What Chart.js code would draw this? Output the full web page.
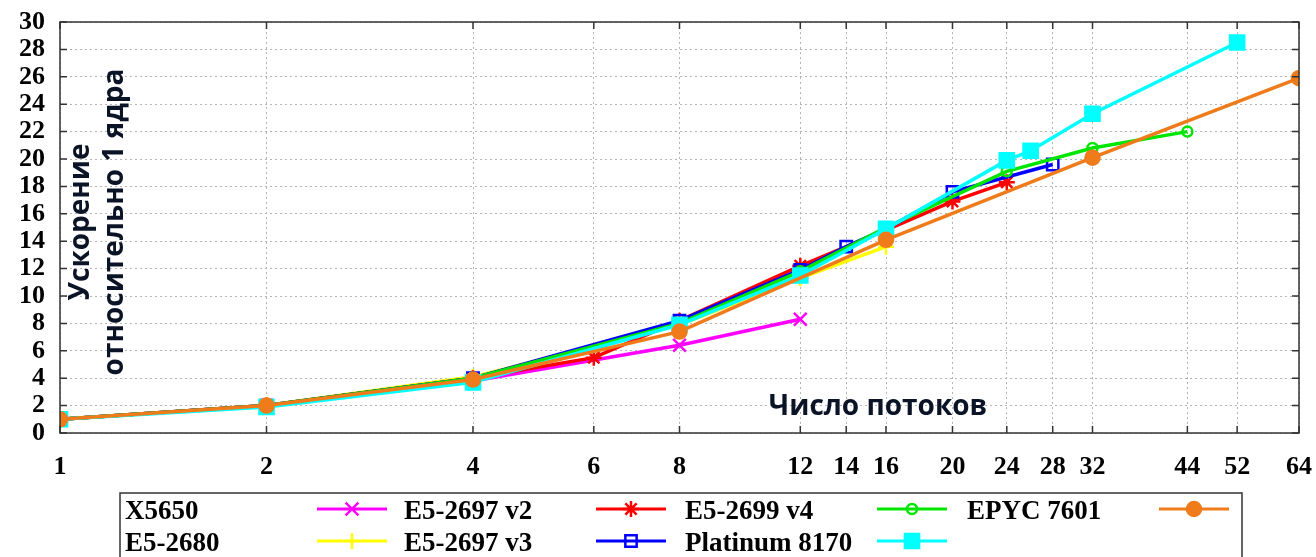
<!DOCTYPE html>
<html>
<head>
<meta charset="utf-8">
<script src="https://cdn.jsdelivr.net/npm/chart.js@4/dist/chart.umd.min.js"></script>
<style>
    body { margin: 0; background: #fff; }
    #wrap { width: 1316px; height: 557px; position: relative; }
</style>
</head>
<body>
<div id="wrap"><canvas id="speedupChart"></canvas></div>
<script>
// threads on the x axis, speedup relative to 1 core on the y axis
const xTicks = [1, 2, 4, 6, 8, 12, 14, 16, 20, 24, 28, 32, 44, 52, 64];
const yTicks = [0, 2, 4, 6, 8, 10, 12, 14, 16, 18, 20, 22, 24, 26, 28, 30];

const x5650Threads = [1, 2, 4, 8, 12];
const x5650Speedup = [1.0, 2.0, 3.8, 6.4, 8.3];

const e52680Threads = [1, 2, 4, 8, 12, 16];
const e52680Speedup = [1.0, 2.0, 4.1, 7.9, 11.3, 13.6];

const v2Threads = [1, 2, 4, 6, 8, 12, 16, 20, 24];
const v2Speedup = [1.0, 2.0, 4.0, 5.5, 8.2, 12.2, 14.8, 16.9, 18.3];

const v3Threads = [1, 2, 4, 8, 12, 14, 16, 20, 28];
const v3Speedup = [1.0, 2.0, 4.0, 8.2, 11.9, 13.6, 14.9, 17.6, 19.6];

const v4Threads = [1, 2, 4, 8, 12, 16, 24, 32, 44];
const v4Speedup = [1.0, 2.0, 4.0, 8.0, 11.8, 15.0, 19.1, 20.8, 22.0];

const platThreads = [1, 2, 4, 8, 12, 16, 24, 26, 32, 52];
const platSpeedup = [1.0, 1.9, 3.7, 7.9, 11.5, 14.9, 19.9, 20.6, 23.3, 28.5];

const epycThreads = [1, 2, 4, 8, 16, 32, 64];
const epycSpeedup = [1.0, 2.0, 3.9, 7.4, 14.1, 20.1, 25.9];

const toPoints = (xs, ys) => xs.map((x, i) => ({ x: x, y: ys[i] }));

const series = [
    { label: 'X5650', data: toPoints(x5650Threads, x5650Speedup), color: '#ff00ff', style: 'crossRot', r: 9, fill: false },
    { label: 'E5-2680', data: toPoints(e52680Threads, e52680Speedup), color: '#ffff00', style: 'cross', r: 8, fill: false },
    { label: 'E5-2697 v2', data: toPoints(v2Threads, v2Speedup), color: '#ff0000', style: 'star', r: 8, fill: false },
    { label: 'E5-2697 v3', data: toPoints(v3Threads, v3Speedup), color: '#0000ff', style: 'rect', r: 8, fill: false },
    { label: 'E5-2699 v4', data: toPoints(v4Threads, v4Speedup), color: '#00e600', style: 'circle', r: 5, fill: false },
    { label: 'Platinum 8170', data: toPoints(platThreads, platSpeedup), color: '#00ffff', style: 'rect', r: 10, fill: true },
    { label: 'EPYC 7601', data: toPoints(epycThreads, epycSpeedup), color: '#ef7b1a', style: 'circle', r: 7, fill: true }
];

const datasets = series.map((s, i) => ({
    label: s.label,
    data: s.data,
    borderColor: s.color,
    borderWidth: 3.5,
    pointStyle: s.style,
    pointRadius: s.r,
    pointBorderWidth: 2.5,
    pointBorderColor: s.color,
    pointBackgroundColor: s.fill ? s.color : 'rgba(0,0,0,0)',
    tension: 0,
    order: series.length - 1 - i
}));

const tickFont = { family: '"Liberation Serif", serif', size: 26, weight: 'bold' };

const noPad = scale => {
    scale.paddingLeft = 0; scale.paddingRight = 0;
    scale.paddingTop = 0; scale.paddingBottom = 0;
};

// frame, inward tics, axis titles and the gnuplot style key
const decorPlugin = {
    id: 'decor',
    afterDraw(chart) {
        const ctx = chart.ctx;
        const a = chart.chartArea;
        const xs = chart.scales.x, ys = chart.scales.y;
        ctx.save();
        ctx.strokeStyle = '#333';
        ctx.lineWidth = 1.5;
        ctx.strokeRect(a.left, a.top, a.right - a.left, a.bottom - a.top);
        ctx.beginPath();
        xTicks.forEach(v => {
            const px = xs.getPixelForValue(v);
            ctx.moveTo(px, a.bottom); ctx.lineTo(px, a.bottom - 7);
            ctx.moveTo(px, a.top); ctx.lineTo(px, a.top + 7);
        });
        yTicks.forEach(v => {
            const py = ys.getPixelForValue(v);
            ctx.moveTo(a.left, py); ctx.lineTo(a.left + 7, py);
            ctx.moveTo(a.right, py); ctx.lineTo(a.right - 7, py);
        });
        ctx.stroke();

        // axis titles inside the plot
        ctx.fillStyle = '#0b1426';
        ctx.font = 'bold 28px "Open Sans", sans-serif';
        ctx.textAlign = 'center';
        ctx.textBaseline = 'alphabetic';
        ctx.fillText('Число потоков', 878, 415);
        ctx.save();
        ctx.translate(89, 222);
        ctx.rotate(-Math.PI / 2);
        ctx.fillText('Ускорение', 0, 0);
        ctx.restore();
        ctx.save();
        ctx.translate(123, 222);
        ctx.rotate(-Math.PI / 2);
        ctx.fillText('относительно 1 ядра', 0, 0);
        ctx.restore();

        // key box
        ctx.strokeStyle = '#333';
        ctx.lineWidth = 1.5;
        ctx.strokeRect(120, 493, 1122, 80);
        const colX = [125, 404, 685, 967];
        const rowY = [519, 551];
        ctx.font = 'bold 27px "Liberation Serif", serif';
        ctx.textAlign = 'left';
        series.forEach((s, i) => {
            const lx = colX[Math.floor(i / 2)];
            const ly = rowY[i % 2];
            ctx.fillStyle = '#000';
            ctx.fillText(s.label, lx, ly);
            const sx = lx + 192, my = ly - 10;
            ctx.strokeStyle = s.color;
            ctx.lineWidth = 3;
            ctx.beginPath();
            ctx.moveTo(sx, my); ctx.lineTo(sx + 70, my);
            ctx.stroke();
            ctx.fillStyle = s.fill ? s.color : 'rgba(0,0,0,0)';
            ctx.lineWidth = 2.5;
            Chart.helpers.drawPoint(ctx, { pointStyle: s.style, radius: s.r, borderWidth: 2.5, rotation: 0 }, sx + 35, my);
        });
        ctx.restore();
    }
};

window.addEventListener('load', () => {
    const canvas = document.getElementById('speedupChart');
    new Chart(canvas.getContext('2d'), {
        type: 'line',
        data: { datasets: datasets },
        plugins: [decorPlugin],
        options: {
            responsive: true,
            maintainAspectRatio: false,
            animation: false,
            layout: { padding: { top: 22, right: 17, left: 0, bottom: 0 } },
            plugins: { legend: { display: false }, tooltip: { enabled: false } },
            scales: {
                x: {
                    type: 'logarithmic',
                    min: 1,
                    max: 64,
                    afterBuildTicks: scale => { scale.ticks = xTicks.map(v => ({ value: v })); },
                    afterFit: scale => { scale.height = 124; noPad(scale); },
                    ticks: {
                        autoSkip: false,
                        maxRotation: 0,
                        color: '#000',
                        font: tickFont,
                        padding: 19,
                        callback: v => String(v)
                    },
                    grid: { color: '#b4b4b4', lineWidth: 1, drawTicks: false },
                    border: { display: false, dash: [2, 3] }
                },
                y: {
                    min: 0,
                    max: 30,
                    afterBuildTicks: scale => { scale.ticks = yTicks.map(v => ({ value: v })); },
                    afterFit: scale => { scale.width = 60; noPad(scale); },
                    ticks: {
                        autoSkip: false,
                        color: '#000',
                        font: tickFont,
                        padding: 15,
                        callback: v => String(v)
                    },
                    grid: { color: '#b4b4b4', lineWidth: 1, drawTicks: false },
                    border: { display: false, dash: [2, 3] }
                }
            }
        }
    });
});
</script>
</body>
</html>
